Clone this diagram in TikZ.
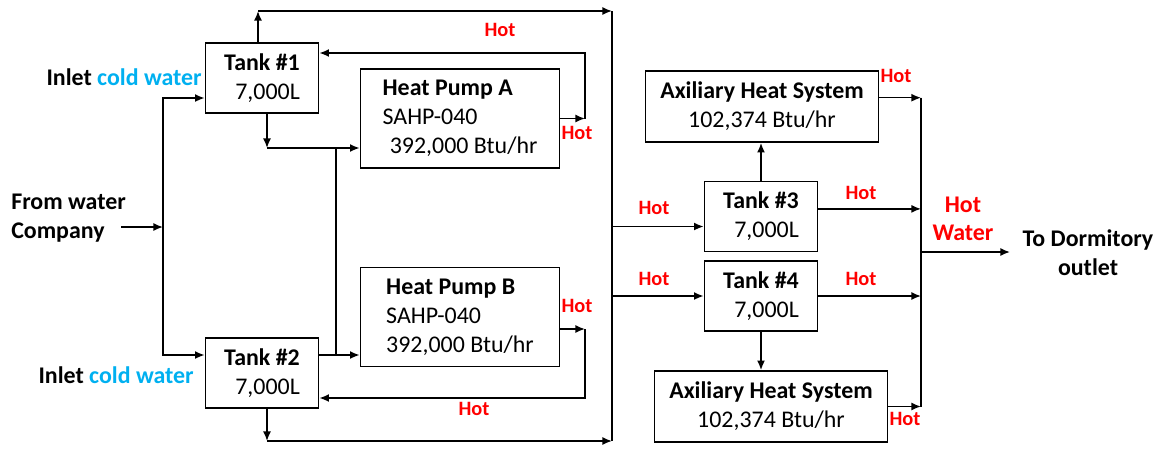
\documentclass[tikz,border=0pt]{standalone}
\usepackage{fontspec}
\setmainfont{Carlito}
\usetikzlibrary{arrows.meta}
\definecolor{coldblue}{RGB}{0,176,240}
\definecolor{hotred}{RGB}{255,0,0}

\begin{document}
\begin{tikzpicture}[x=0.025cm, y=-0.025cm,
  unitbox/.style={draw, line width=1.1pt, inner sep=0pt, align=center,
                  font=\fontsize{17}{20.5}\selectfont},
  tankbox/.style={unitbox, minimum width=2.83cm, minimum height=1.75cm, align=right},
  pumpbox/.style={unitbox, minimum width=4.98cm, minimum height=2.48cm, align=left},
  auxbox/.style={unitbox, minimum width=5.82cm, minimum height=1.78cm},
  sidelbl/.style={align=center, inner sep=0pt, font=\fontsize{17}{21}\selectfont\bfseries},
  hotlbl/.style={text=hotred, inner sep=0pt, font=\fontsize{14.5}{17}\selectfont\bfseries},
  pipe/.style={line width=1.1pt},
  flow/.style={pipe, -{Latex[length=2.4mm, width=2mm]}}
]
\useasboundingbox (0,0) rectangle (1161,449);

\node[tankbox] (tank1) at (262,78)    {\textbf{Tank \#1}\\7,000L};
\node[tankbox] (tank2) at (262,373)   {\textbf{Tank \#2}\\7,000L};
\node[pumpbox] (pumpA) at (460,118.5) {\textbf{Heat Pump A}\\SAHP-040\\\hspace*{0.3em}392,000 Btu/hr};
\node[pumpbox] (pumpB) at (460,317)   {\textbf{Heat Pump B}\\SAHP-040\\392,000 Btu/hr};
\node[tankbox] (tank3) at (761,216.5) {\textbf{Tank \#3}\\7,000L};
\node[tankbox] (tank4) at (761,296)   {\textbf{Tank \#4}\\7,000L};
\node[auxbox]  (aux3)  at (762,106.5) {\textbf{Axiliary Heat System}\\102,374 Btu/hr};
\node[auxbox]  (aux4)  at (771,406.5) {\textbf{Axiliary Heat System}\\102,374 Btu/hr};

\node[sidelbl, anchor=east] (inlet1) at (202,77)  {Inlet \textcolor{coldblue}{cold water}};
\node[sidelbl, anchor=east] (inlet2) at (194,375) {Inlet \textcolor{coldblue}{cold water}};
\node[sidelbl, align=left, anchor=west] (source) at (11,218) {From water\\Company};
\node[sidelbl] (dorm) at (1088,252.5) {To Dormitory\\outlet};
\node[hotlbl, align=center, font=\fontsize{17}{20}\selectfont\bfseries] (hotwater) at (963,219) {Hot\\Water};

\node[hotlbl] (hotTop)   at (500,30)  {Hot};
\node[hotlbl] (hotA)     at (577,133) {Hot};
\node[hotlbl] (hotB)     at (577,306) {Hot};
\node[hotlbl] (hotBot)   at (474,409) {Hot};
\node[hotlbl] (hotIn3)   at (654,208) {Hot};
\node[hotlbl] (hotIn4)   at (654,279) {Hot};
\node[hotlbl] (hotAux3)  at (896,76)  {Hot};
\node[hotlbl] (hotOut3)  at (861,193) {Hot};
\node[hotlbl] (hotOut4)  at (861,279) {Hot};
\node[hotlbl] (hotAux4)  at (905,419) {Hot};

\coordinate (srcIn)  at (121,227);
\coordinate (split)  at (163,227);
\coordinate (upTop)  at (258,11);
\coordinate (busTop) at (612,11);
\coordinate (busBot) at (612,441);
\coordinate (downA)  at (267,148);
\coordinate (downB)  at (267,441);
\coordinate (tie)    at (336,355);
\coordinate (retA)   at (585,53);
\coordinate (retB)   at (585,398);
\coordinate (colTop) at (921,97.5);
\coordinate (colBot) at (921,406.5);
\coordinate (outEnd) at (1010,252);

\draw[flow] (srcIn) -- (split);
\draw[flow] (split) |- ([yshift=-5mm]tank1.west);
\draw[flow] (split) |- ([yshift=4.5mm]tank2.west);

\draw[flow] (tank1.north -| upTop) -- (upTop);
\draw[flow] (upTop) -- (busTop);
\draw[pipe] (busTop) -- (busBot);
\draw[flow] (tank1.south -| downA) -- (downA);
\draw[flow] (downA) -- (downA -| pumpA.west);
\draw[pipe] (downA -| tie) -- (tie);
\draw[flow] (tie -| tank2.east) -- (tie -| pumpB.west);
\draw[flow] (pumpA.east) -- (pumpA.east -| retA);
\draw[flow] (pumpA.east -| retA) -- (retA) -- (retA -| tank1.east);
\draw[flow] ([yshift=-3mm]pumpB.east) -- ([yshift=-3mm]pumpB.east -| retB);
\draw[flow] ([yshift=-3mm]pumpB.east -| retB) -- (retB) -- (retB -| tank2.east);
\draw[flow] (tank2.south -| downB) -- (downB);
\draw[flow] (downB) -- (busBot);

\draw[flow] ([yshift=-2.5mm]tank3.west -| busTop) -- ([yshift=-2.5mm]tank3.west);
\draw[flow] (tank4.west -| busTop) -- (tank4.west);
\draw[flow] (tank3.north) -- (tank3.north |- aux3.south);
\draw[flow] (tank4.south) -- (tank4.south |- aux4.north);
\draw[flow] ([yshift=2.2mm]aux3.east) -- ([yshift=2.2mm]aux3.east -| colTop);
\draw[flow] ([yshift=1.9mm]tank3.east) -- ([yshift=1.9mm]tank3.east -| colTop);
\draw[flow] (tank4.east) -- (tank4.east -| colTop);
\draw[flow] (aux4.east) -- (aux4.east -| colTop);
\draw[pipe] (colTop) -- (colBot);
\draw[flow] (colTop |- outEnd) -- (outEnd);

\end{tikzpicture}
\end{document}
